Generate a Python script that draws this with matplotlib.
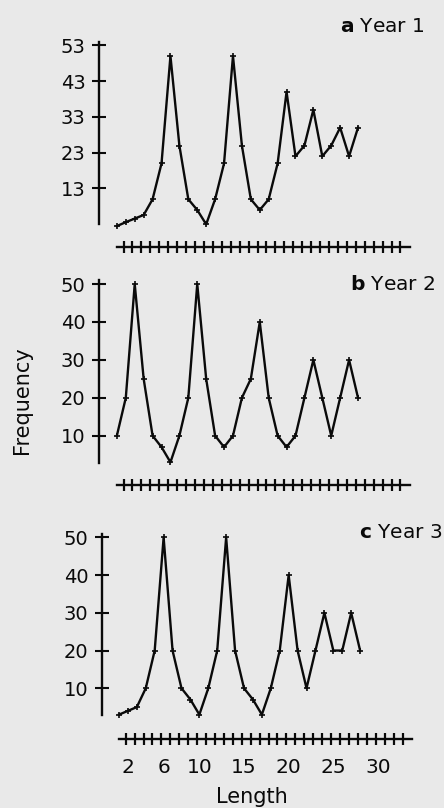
import matplotlib
matplotlib.use("Agg")
import matplotlib.pyplot as plt
import numpy as np

# values
length = list(range(1, 29))
freq_year1 = [2.5, 3.6, 4.6, 5.6, 10, 20, 50, 25, 10, 7, 3, 10, 20, 50, 25,
              10, 7, 10, 20, 40, 22, 25, 35, 22, 25, 30, 22, 30]
freq_year2 = [10, 20, 50, 25, 10, 7, 3, 10, 20, 50, 25, 10, 7, 10, 20, 25,
              40, 20, 10, 7, 10, 20, 30, 20, 10, 20, 30, 20]
freq_year3 = [3, 4, 5, 10, 20, 50, 20, 10, 7, 3, 10, 20, 50, 20, 10, 7, 3,
              10, 20, 40, 20, 10, 20, 30, 20, 20, 30, 20]

yticks_year1 = [13, 23, 33, 43, 53]
yticks_other = [10, 20, 30, 40, 50]
xlabel_vals = [2, 6, 10, 15, 20, 25, 30]
xlabel_text = ["2", "6", "10", "15", "20", "25", "30"]
panel_titles = [r"$\bf{a}$ Year 1", r"$\bf{b}$ Year 2", r"$\bf{c}$ Year 3"]

W, H = 444, 808
PAPER = "#e9e9e9"
INK = "#0a0a0a"

fig = plt.figure(figsize=(W / 100, H / 100), dpi=100, facecolor=PAPER)


def px_axes(left, top, right, bottom):
    return fig.add_axes([left / W, 1 - bottom / H, (right - left) / W, (bottom - top) / H])


def style_panel(ax, x, y, yticks, ylim, spine_top, drop_pt, labels=False):
    ax.set_facecolor("none")
    ax.plot(x, y, color=INK, lw=1.7, marker="+", ms=5, mew=1.2, clip_on=False)
    for s in ("top", "right"):
        ax.spines[s].set_visible(False)
    ax.spines["left"].set_bounds(ylim[0], spine_top)
    ax.spines["left"].set_linewidth(1.7)
    ax.spines["left"].set_color(INK)
    ax.spines["bottom"].set_position(("outward", drop_pt))
    ax.spines["bottom"].set_bounds(0.97, 33.8)
    ax.spines["bottom"].set_linewidth(1.7)
    ax.spines["bottom"].set_color(INK)
    ax.set_ylim(*ylim)
    ax.set_yticks(yticks)
    ax.tick_params(axis="y", direction="inout", length=9.5, width=1.5,
                   pad=5, labelsize=14, colors=INK)
    ax.set_xticks(np.arange(32) + 1.75, minor=True)
    ax.tick_params(axis="x", which="minor", direction="inout", length=9,
                   width=1.6, colors=INK)
    if labels:
        ax.set_xticks(xlabel_vals, xlabel_text)
        ax.tick_params(axis="x", which="major", length=0, pad=14,
                       labelsize=14.5, colors=INK)
    else:
        ax.set_xticks([])


ax_a = px_axes(99, 41.7, 411.6, 224.3)
ax_a.set_xlim(-1, 34)
style_panel(ax_a, length, freq_year1, yticks_year1, (3, 54), 53.8, 16.2)

ax_b = px_axes(99, 278.4, 411.6, 463)
ax_b.set_xlim(-1, 34)
style_panel(ax_b, length, freq_year2, yticks_other, (2.8, 51.5), 51, 16)

ax_c = px_axes(102, 531.8, 413.7, 715)
ax_c.set_xlim(-0.9, 34)
style_panel(ax_c, length, freq_year3, yticks_other, (2.9, 51.5), 51, 17.3, labels=True)

for title, (xr, yc) in zip(panel_titles, [(425, 26), (435, 284), (442, 532)]):
    fig.text(xr / W, 1 - yc / H, title, ha="right", va="center", fontsize=14.5, color=INK)

fig.text(22 / W, 1 - 400 / H, "Frequency", rotation=90, ha="center", va="center",
         fontsize=15, color=INK)
fig.text(252 / W, 1 - 797 / H, "Length", ha="center", va="center", fontsize=15, color=INK)

fig.savefig("out.png", dpi=100, facecolor=PAPER)
